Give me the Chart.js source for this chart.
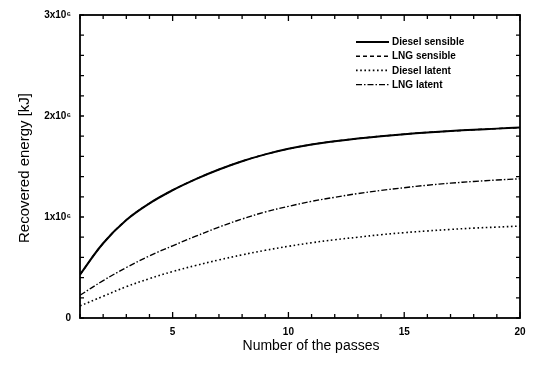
<!DOCTYPE html>
<html>
<head>
<meta charset="utf-8">
<script src="https://cdn.jsdelivr.net/npm/chart.js@4.4.1/dist/chart.umd.min.js"></script>
<style>
    html, body { margin: 0; padding: 0; background: #fff; }
</style>
</head>
<body>
<canvas id="myChart" width="534" height="365"></canvas>
<script>
// number of passes
const passes = [1, 2, 3, 4, 5, 6, 7, 8, 9, 10, 11, 12, 13, 14, 15, 16, 17, 18, 19, 20];

// recovered energy, kJ
const dieselSensible = [430000, 740000, 970000, 1135000, 1265000, 1375000, 1470000, 1552000, 1620000, 1675000,
    1718000, 1750000, 1777000, 1800000, 1820000, 1837000, 1851000, 1864000, 1875000, 1885000];
const lngSensible = [430000, 740000, 970000, 1135000, 1265000, 1375000, 1470000, 1552000, 1620000, 1675000,
    1718000, 1750000, 1777000, 1800000, 1820000, 1837000, 1851000, 1864000, 1875000, 1885000];
const dieselLatent = [120000, 215000, 310000, 390000, 460000, 520000, 575000, 625000, 670000, 710000,
    745000, 775000, 800000, 825000, 845000, 862000, 877000, 890000, 900000, 910000];
const lngLatent = [225000, 370000, 500000, 615000, 715000, 810000, 900000, 980000, 1050000, 1105000,
    1155000, 1195000, 1232000, 1263000, 1290000, 1315000, 1335000, 1352000, 1366000, 1378000];

const yTickLabels = {0: '0', 1000000: '1x10\u2076', 2000000: '2x10\u2076', 3000000: '3x10\u2076'};

const FONT = "'Liberation Sans', Arial, sans-serif";

function toPoints(values) {
    return values.map((v, i) => ({x: passes[i], y: v}));
}

const series = [
    {label: 'LNG sensible', data: lngSensible, dash: [4, 3], width: 1.5},
    {label: 'Diesel latent', data: dieselLatent, dash: [1.6, 2.6], width: 1.6},
    {label: 'LNG latent', data: lngLatent, dash: [6, 2, 1.5, 2], width: 1.4},
    {label: 'Diesel sensible', data: dieselSensible, dash: [], width: 2}
];

// рамка, засечки внутрь, легенда и подписи осей
const framePlugin = {
    id: 'frame',
    afterDraw(chart) {
        const ctx = chart.ctx;
        const area = chart.chartArea;
        const xs = chart.scales.x;
        const ys = chart.scales.y;

        ctx.save();
        ctx.strokeStyle = '#000';
        ctx.lineWidth = 1.8;
        ctx.strokeRect(area.left, area.top, area.right - area.left, area.bottom - area.top);

        ctx.lineWidth = 1.3;
        ctx.beginPath();
        xs.ticks.forEach(t => {
            const px = xs.getPixelForValue(t.value);
            const len = t.value % 5 === 0 ? 6 : 4;
            ctx.moveTo(px, area.bottom);
            ctx.lineTo(px, area.bottom - len);
            ctx.moveTo(px, area.top);
            ctx.lineTo(px, area.top + len);
        });
        ys.ticks.forEach(t => {
            const py = ys.getPixelForValue(t.value);
            ctx.moveTo(area.left, py);
            ctx.lineTo(area.left + 4, py);
            ctx.moveTo(area.right, py);
            ctx.lineTo(area.right - 4, py);
        });
        ctx.stroke();

        // легенда
        const order = ['Diesel sensible', 'LNG sensible', 'Diesel latent', 'LNG latent'];
        ctx.font = 'bold 10px ' + FONT;
        ctx.fillStyle = '#000';
        ctx.textBaseline = 'middle';
        order.forEach((name, i) => {
            const ds = chart.data.datasets.find(d => d.label === name);
            const y = 42 + i * 14.2;
            ctx.beginPath();
            ctx.setLineDash(ds.borderDash);
            ctx.lineWidth = ds.borderWidth;
            ctx.moveTo(356, y);
            ctx.lineTo(389, y);
            ctx.stroke();
            ctx.setLineDash([]);
            ctx.fillText(name, 392, y + 0.5);
        });

        // подписи осей
        ctx.textAlign = 'center';
        ctx.font = '14px ' + FONT;
        ctx.fillText('Number of the passes', 311, 346);
        ctx.translate(25, 168);
        ctx.rotate(-Math.PI / 2);
        ctx.font = '15px ' + FONT;
        ctx.fillText('Recovered energy [kJ]', 0, 0);
        ctx.restore();
    }
};

const ctx = document.getElementById('myChart').getContext('2d');
new Chart(ctx, {
    type: 'line',
    data: {
        datasets: series.map(s => ({
            label: s.label,
            data: toPoints(s.data),
            borderColor: '#000',
            borderWidth: s.width,
            borderDash: s.dash,
            pointRadius: 0,
            fill: false,
            tension: 0.4
        }))
    },
    options: {
        responsive: false,
        animation: false,
        layout: {
            padding: {left: 0, top: 12, right: 14, bottom: 0}
        },
        plugins: {
            legend: {display: false},
            tooltip: {enabled: false}
        },
        scales: {
            x: {
                type: 'linear',
                min: 1,
                max: 20,
                afterFit(scale) { scale.height = 47; },
                afterBuildTicks(scale) {
                    scale.ticks = passes.map(v => ({value: v}));
                },
                grid: {display: false, drawTicks: false},
                border: {display: false},
                ticks: {
                    autoSkip: false,
                    maxRotation: 0,
                    padding: 8,
                    color: '#000',
                    font: {family: FONT, size: 10, weight: 'bold'},
                    callback: v => (v % 5 === 0 ? String(v) : '')
                }
            },
            y: {
                min: 0,
                max: 3000000,
                afterFit(scale) { scale.width = 80; },
                grid: {display: false, drawTicks: false},
                border: {display: false},
                ticks: {
                    stepSize: 200000,
                    autoSkip: false,
                    padding: 9,
                    color: '#000',
                    font: {family: FONT, size: 10, weight: 'bold'},
                    callback: v => yTickLabels[v] || ''
                }
            }
        }
    },
    plugins: [framePlugin]
});
</script>
</body>
</html>
